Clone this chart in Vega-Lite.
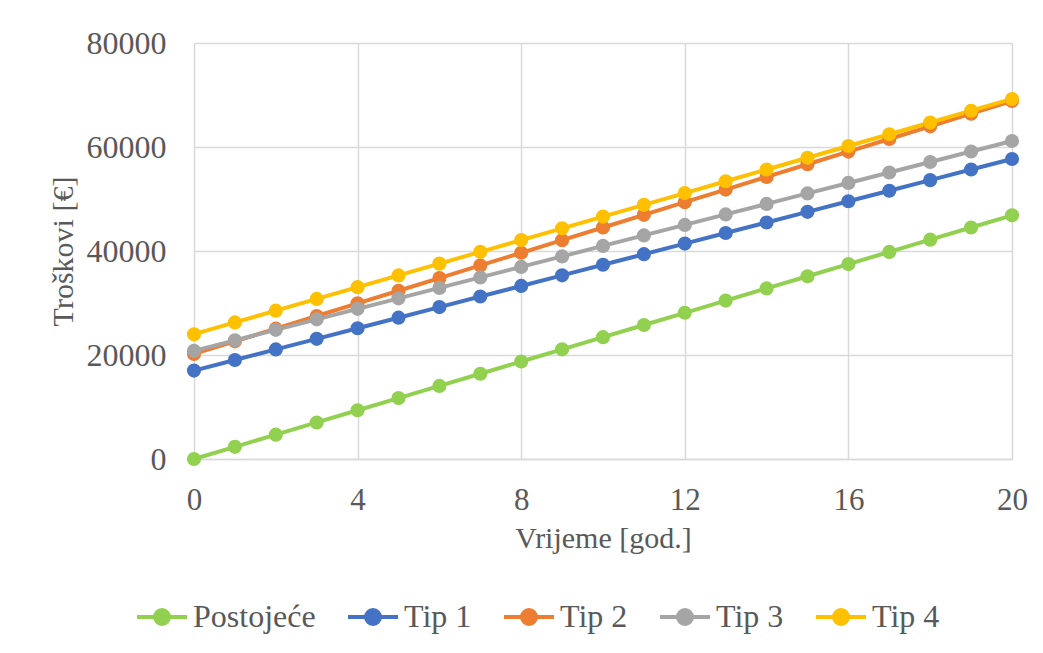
{
  "$schema": "https://vega.github.io/schema/vega-lite/v6.json",
  "autosize": {"type": "none"},
  "width": 818,
  "height": 416,
  "padding": {"left": 194, "top": 43, "right": 31, "bottom": 194},
  "background": "white",
  "config": {
    "view": {"stroke": null},
    "font": "Liberation Serif",
    "axis": {
      "labelFont": "Liberation Serif",
      "titleFont": "Liberation Serif",
      "labelColor": "#595959",
      "titleColor": "#595959",
      "titleFontWeight": "normal",
      "gridColor": "#D9D9D9",
      "gridWidth": 1.5,
      "ticks": false,
      "tickSize": 0
    },
    "legend": {
      "labelFont": "Liberation Serif",
      "labelColor": "#595959"
    }
  },
  "data": {
    "values": [
      {"x": 0, "value": 0, "series": "Postojeće"},
      {"x": 1, "value": 2343, "series": "Postojeće"},
      {"x": 2, "value": 4686, "series": "Postojeće"},
      {"x": 3, "value": 7029, "series": "Postojeće"},
      {"x": 4, "value": 9372, "series": "Postojeće"},
      {"x": 5, "value": 11715, "series": "Postojeće"},
      {"x": 6, "value": 14058, "series": "Postojeće"},
      {"x": 7, "value": 16401, "series": "Postojeće"},
      {"x": 8, "value": 18744, "series": "Postojeće"},
      {"x": 9, "value": 21087, "series": "Postojeće"},
      {"x": 10, "value": 23430, "series": "Postojeće"},
      {"x": 11, "value": 25773, "series": "Postojeće"},
      {"x": 12, "value": 28116, "series": "Postojeće"},
      {"x": 13, "value": 30459, "series": "Postojeće"},
      {"x": 14, "value": 32802, "series": "Postojeće"},
      {"x": 15, "value": 35145, "series": "Postojeće"},
      {"x": 16, "value": 37488, "series": "Postojeće"},
      {"x": 17, "value": 39831, "series": "Postojeće"},
      {"x": 18, "value": 42174, "series": "Postojeće"},
      {"x": 19, "value": 44517, "series": "Postojeće"},
      {"x": 20, "value": 46860, "series": "Postojeće"},
      {"x": 0, "value": 17000, "series": "Tip 1"},
      {"x": 1, "value": 19035, "series": "Tip 1"},
      {"x": 2, "value": 21070, "series": "Tip 1"},
      {"x": 3, "value": 23105, "series": "Tip 1"},
      {"x": 4, "value": 25140, "series": "Tip 1"},
      {"x": 5, "value": 27175, "series": "Tip 1"},
      {"x": 6, "value": 29210, "series": "Tip 1"},
      {"x": 7, "value": 31245, "series": "Tip 1"},
      {"x": 8, "value": 33280, "series": "Tip 1"},
      {"x": 9, "value": 35315, "series": "Tip 1"},
      {"x": 10, "value": 37350, "series": "Tip 1"},
      {"x": 11, "value": 39385, "series": "Tip 1"},
      {"x": 12, "value": 41420, "series": "Tip 1"},
      {"x": 13, "value": 43455, "series": "Tip 1"},
      {"x": 14, "value": 45490, "series": "Tip 1"},
      {"x": 15, "value": 47525, "series": "Tip 1"},
      {"x": 16, "value": 49560, "series": "Tip 1"},
      {"x": 17, "value": 51595, "series": "Tip 1"},
      {"x": 18, "value": 53630, "series": "Tip 1"},
      {"x": 19, "value": 55665, "series": "Tip 1"},
      {"x": 20, "value": 57700, "series": "Tip 1"},
      {"x": 0, "value": 20200, "series": "Tip 2"},
      {"x": 1, "value": 22632, "series": "Tip 2"},
      {"x": 2, "value": 25064, "series": "Tip 2"},
      {"x": 3, "value": 27496, "series": "Tip 2"},
      {"x": 4, "value": 29928, "series": "Tip 2"},
      {"x": 5, "value": 32360, "series": "Tip 2"},
      {"x": 6, "value": 34792, "series": "Tip 2"},
      {"x": 7, "value": 37224, "series": "Tip 2"},
      {"x": 8, "value": 39656, "series": "Tip 2"},
      {"x": 9, "value": 42088, "series": "Tip 2"},
      {"x": 10, "value": 44520, "series": "Tip 2"},
      {"x": 11, "value": 46952, "series": "Tip 2"},
      {"x": 12, "value": 49384, "series": "Tip 2"},
      {"x": 13, "value": 51816, "series": "Tip 2"},
      {"x": 14, "value": 54248, "series": "Tip 2"},
      {"x": 15, "value": 56680, "series": "Tip 2"},
      {"x": 16, "value": 59112, "series": "Tip 2"},
      {"x": 17, "value": 61544, "series": "Tip 2"},
      {"x": 18, "value": 63976, "series": "Tip 2"},
      {"x": 19, "value": 66408, "series": "Tip 2"},
      {"x": 20, "value": 68840, "series": "Tip 2"},
      {"x": 0, "value": 20800, "series": "Tip 3"},
      {"x": 1, "value": 22818, "series": "Tip 3"},
      {"x": 2, "value": 24836, "series": "Tip 3"},
      {"x": 3, "value": 26854, "series": "Tip 3"},
      {"x": 4, "value": 28872, "series": "Tip 3"},
      {"x": 5, "value": 30890, "series": "Tip 3"},
      {"x": 6, "value": 32908, "series": "Tip 3"},
      {"x": 7, "value": 34926, "series": "Tip 3"},
      {"x": 8, "value": 36944, "series": "Tip 3"},
      {"x": 9, "value": 38962, "series": "Tip 3"},
      {"x": 10, "value": 40980, "series": "Tip 3"},
      {"x": 11, "value": 42998, "series": "Tip 3"},
      {"x": 12, "value": 45016, "series": "Tip 3"},
      {"x": 13, "value": 47034, "series": "Tip 3"},
      {"x": 14, "value": 49052, "series": "Tip 3"},
      {"x": 15, "value": 51070, "series": "Tip 3"},
      {"x": 16, "value": 53088, "series": "Tip 3"},
      {"x": 17, "value": 55106, "series": "Tip 3"},
      {"x": 18, "value": 57124, "series": "Tip 3"},
      {"x": 19, "value": 59142, "series": "Tip 3"},
      {"x": 20, "value": 61160, "series": "Tip 3"},
      {"x": 0, "value": 24000, "series": "Tip 4"},
      {"x": 1, "value": 26262, "series": "Tip 4"},
      {"x": 2, "value": 28524, "series": "Tip 4"},
      {"x": 3, "value": 30786, "series": "Tip 4"},
      {"x": 4, "value": 33048, "series": "Tip 4"},
      {"x": 5, "value": 35310, "series": "Tip 4"},
      {"x": 6, "value": 37572, "series": "Tip 4"},
      {"x": 7, "value": 39834, "series": "Tip 4"},
      {"x": 8, "value": 42096, "series": "Tip 4"},
      {"x": 9, "value": 44358, "series": "Tip 4"},
      {"x": 10, "value": 46620, "series": "Tip 4"},
      {"x": 11, "value": 48882, "series": "Tip 4"},
      {"x": 12, "value": 51144, "series": "Tip 4"},
      {"x": 13, "value": 53406, "series": "Tip 4"},
      {"x": 14, "value": 55668, "series": "Tip 4"},
      {"x": 15, "value": 57930, "series": "Tip 4"},
      {"x": 16, "value": 60192, "series": "Tip 4"},
      {"x": 17, "value": 62454, "series": "Tip 4"},
      {"x": 18, "value": 64716, "series": "Tip 4"},
      {"x": 19, "value": 66978, "series": "Tip 4"},
      {"x": 20, "value": 69240, "series": "Tip 4"}
    ]
  },
  "encoding": {
    "x": {
      "field": "x",
      "type": "quantitative",
      "scale": {"domain": [0, 20], "nice": false, "zero": false},
      "axis": {
        "title": "Vrijeme [god.]",
        "values": [0, 4, 8, 12, 16, 20],
        "labelFontSize": 31,
        "titleFontSize": 30,
        "labelPadding": 26,
        "titlePadding": 8,
        "domain": true,
        "domainColor": "#D9D9D9",
        "domainWidth": 1.5,
        "labelFlush": false
      }
    },
    "y": {
      "field": "value",
      "type": "quantitative",
      "scale": {"domain": [0, 80000], "nice": false},
      "axis": {
        "title": "Troškovi [€]",
        "values": [0, 20000, 40000, 60000, 80000],
        "format": "d",
        "labelFontSize": 32,
        "titleFontSize": 30,
        "labelPadding": 28,
        "titlePadding": 8,
        "domain": false
      }
    },
    "color": {
      "field": "series",
      "type": "nominal",
      "scale": {
        "domain": ["Postojeće", "Tip 1", "Tip 2", "Tip 3", "Tip 4"],
        "range": ["#92D050", "#4472C4", "#ED7D31", "#A5A5A5", "#FFC000"]
      },
      "legend": {
        "title": null,
        "orient": "none",
        "legendX": -59,
        "legendY": 547,
        "direction": "horizontal",
        "labelFontSize": 32,
        "symbolType": "M -1 0 L 1 0 M 0.28 0 A 0.28 0.28 0 1 1 -0.28 0 A 0.28 0.28 0 1 1 0.28 0 Z",
        "symbolSize": 2500,
        "symbolStrokeWidth": 4,
        "labelOffset": 4,
        "columnPadding": 24,
        "encode": {
          "symbols": {
            "update": {
              "fill": {"scale": "color", "field": "value"},
              "stroke": {"scale": "color", "field": "value"},
              "strokeWidth": {"value": 4},
              "opacity": {"value": 1}
            }
          }
        }
      }
    }
  },
  "layer": [
    {"mark": {"type": "line", "strokeWidth": 4}},
    {"mark": {"type": "point", "filled": true, "size": 200, "opacity": 1}}
  ]
}
